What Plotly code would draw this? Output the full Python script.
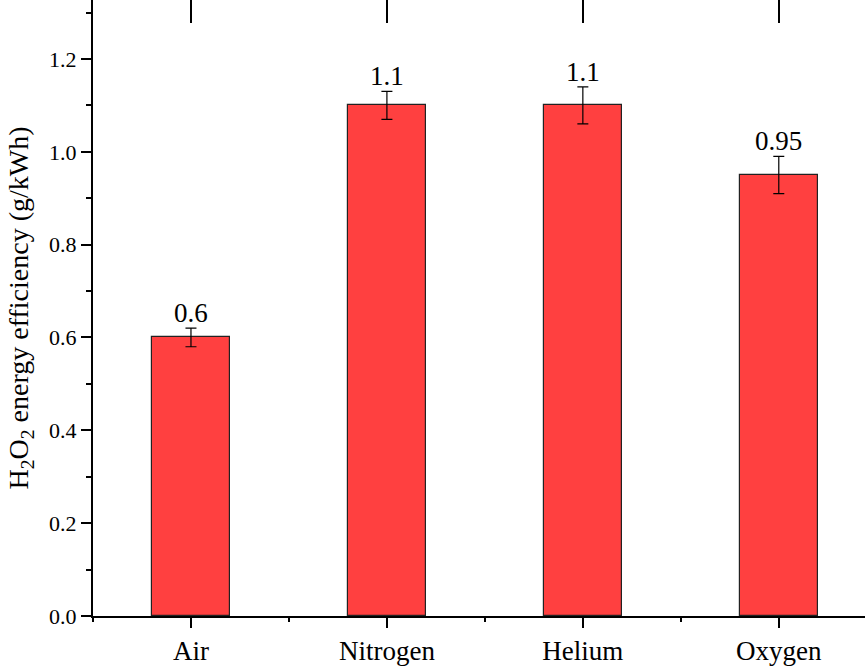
import plotly.graph_objects as go

# Data
categories = ["Air", "Nitrogen", "Helium", "Oxygen"]
efficiency = [0.6, 1.1, 1.1, 0.95]          # g/kWh
efficiency_err = [0.02, 0.03, 0.04, 0.04]
y_ticks = [0.0, 0.2, 0.4, 0.6, 0.8, 1.0, 1.2]

FONT = "'Liberation Serif', serif"
positions = list(range(len(categories)))

fig = go.Figure()
fig.add_trace(go.Bar(
    x=positions,
    y=efficiency,
    width=0.4,
    marker=dict(color="#FF4040", line=dict(color="#222222", width=1.2)),
    error_y=dict(type="data", array=efficiency_err, visible=True,
                 color="black", thickness=1.2, width=5.5),
    showlegend=False,
))

# invisible trace to carry the top (mirrored) tick axis
fig.add_trace(go.Scatter(x=positions, y=efficiency, xaxis="x2",
                         mode="markers", marker=dict(opacity=0),
                         showlegend=False, hoverinfo="skip"))

# value labels above the error bars
for xp, v, e in zip(positions, efficiency, efficiency_err):
    fig.add_annotation(x=xp, y=v + e, text=f"{v:g}", showarrow=False,
                       yanchor="bottom", yshift=-2,
                       font=dict(family=FONT, size=27, color="black"))

xrange = [-0.5, 3.44]
fig.update_layout(
    width=865, height=666,
    margin=dict(l=93, r=0, t=0, b=45, pad=0),
    plot_bgcolor="white", paper_bgcolor="white",
    font=dict(family=FONT, color="black"),
    bargap=0,
    xaxis=dict(
        range=xrange, tickmode="array", tickvals=positions, ticktext=categories,
        ticks="outside", ticklen=10, tickwidth=2, tickcolor="black",
        showline=True, linewidth=2, linecolor="black",
        showgrid=False, zeroline=False,
        tickfont=dict(family=FONT, size=27),
        minor=dict(tick0=0.5, dtick=1, ticks="outside", ticklen=4,
                   tickwidth=2, tickcolor="black", showgrid=False),
    ),
    xaxis2=dict(
        range=xrange, overlaying="x", side="top", anchor="y",
        tickmode="array", tickvals=positions, showticklabels=False,
        ticks="inside", ticklen=23, tickwidth=2, tickcolor="black",
        showline=False, showgrid=False, zeroline=False,
    ),
    yaxis=dict(
        range=[0, 1.327], tickmode="array", tickvals=y_ticks,
        tickformat=".1f",
        ticks="outside", ticklen=10, tickwidth=2, tickcolor="black",
        showline=True, linewidth=2, linecolor="black",
        showgrid=False, zeroline=False,
        tickfont=dict(family=FONT, size=22),
        minor=dict(dtick=0.1, tick0=0, ticks="outside", ticklen=5,
                   tickwidth=2, tickcolor="black", showgrid=False),
        title=dict(text="H<sub>2</sub>O<sub>2</sub> energy efficiency (g/kWh)",
                   font=dict(family=FONT, size=28), standoff=12),
    ),
)

fig.write_html("out.html")
